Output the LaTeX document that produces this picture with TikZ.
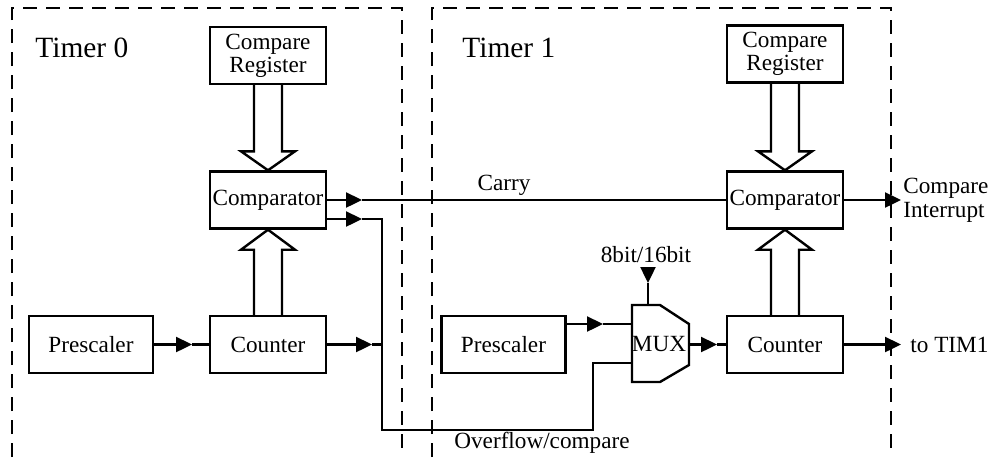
\documentclass[tikz,border=0pt]{standalone}
\usepackage{fontspec}
\setmainfont{Liberation Serif}
\usetikzlibrary{arrows.meta,calc}
\begin{document}
\begin{tikzpicture}[x=0.5pt,y=-0.5pt,
  lw/.style={line width=1.2pt},
  blk/.style={draw,lw,minimum width=58pt,minimum height=28.5pt,inner sep=0pt,align=center,font=\fontsize{11.6}{11.6}\selectfont},
  wideblk/.style={blk,minimum width=62pt},
  frame/.style={line width=1.2pt,dash pattern=on 7pt off 4.5pt},
  arr/.style={lw,-{Triangle[length=8pt,width=7.5pt]}},
  wire/.style={lw},
  hollow/.style={lw,line join=miter},
  lbl/.style={font=\fontsize{11.6}{12}\selectfont,inner sep=0pt,align=left},
  ttl/.style={font=\fontsize{14.7}{15}\selectfont,inner sep=0pt,anchor=west}
]
\useasboundingbox (0,0) rectangle (992,457);

% frames
\draw[frame] (12,457) -- (12,8) -- (402,8) -- (402,457);
\draw[frame] (432,457) -- (432,8) -- (891,8) -- (891,457);

\node[ttl] (t0) at (35,48) {Timer 0};
\node[ttl] (t1) at (462,48) {Timer 1};

% Timer 0 blocks
\node[blk] (cr0) at (268,55.5) {Compare\\Register};
\node[blk] (cp0) at (268,200) {Comparator};
\node[blk] (ct0) at (268,344.5) {Counter};
\node[wideblk] (ps0) at (91,344.5) {Prescaler};

% Timer 1 blocks
\node[blk] (cr1) at (785,54) {Compare\\Register};
\node[blk] (cp1) at (785,200) {Comparator};
\node[blk] (ct1) at (785,344.5) {Counter};
\node[wideblk] (ps1) at (503.5,344.5) {Prescaler};

% MUX
\node[inner sep=0pt,font=\fontsize{11.6}{12}\selectfont] (mux) at (659,344) {MUX};
\coordinate (mtl) at (632,305);
\coordinate (mbl) at (632,382);
\coordinate (min1) at (632,324);
\coordinate (min2) at (632,363);
\coordinate (mtop) at (648,305);
\coordinate (mout) at (689,344.5);
\draw[lw,line join=miter] (mtl) -- (660,305) -- (689,324) -- (689,365) -- (660,382) -- (mbl) -- cycle;

% hollow arrows
\foreach \a/\b in {cr0/cp0,cr1/cp1}{
  \draw[hollow] ($(\a.south)+(-14,0)$) -- ($(\b.north)+(-14,-19)$) -- ($(\b.north)+(-27,-19)$)
    -- (\b.north) -- ($(\b.north)+(27,-19)$) -- ($(\b.north)+(14,-19)$) -- ($(\a.south)+(14,0)$);
}
\foreach \a/\b in {ct0/cp0,ct1/cp1}{
  \draw[hollow] ($(\a.north)+(-14,0)$) -- ($(\b.south)+(-14,20)$) -- ($(\b.south)+(-27,20)$)
    -- (\b.south) -- ($(\b.south)+(27,20)$) -- ($(\b.south)+(14,20)$) -- ($(\a.north)+(14,0)$);
}

% Timer 0 wiring
\coordinate (pa) at (192,344.5);
\draw[arr] (ps0.east) -- (pa);
\draw[wire] (pa) -- (ct0.west);

\coordinate (c1a) at (362,200);
\draw[arr] (cp0.east) -- (c1a);
\draw[wire] (c1a) -- (cp1.west);
\node[lbl] (carry) at (504,185) {Carry};

\coordinate (c2s) at ($(cp0.east)+(0,19)$);
\coordinate (c2a) at (362,219);
\coordinate (j1) at (382,219);
\coordinate (j2) at (382,430);
\coordinate (j3) at (593,430);
\coordinate (j4) at (593,363);
\draw[arr] (c2s) -- (c2a);
\draw[wire] (c2a) -- (j1) -- (j2) -- (j3) -- (j4) -- (min2);
\node[lbl] (ovf) at (542,443) {Overflow/compare};

\coordinate (cta) at (372,344.5);
\coordinate (ctj) at (382,344.5);
\draw[arr] (ct0.east) -- (cta);
\draw[wire] (cta) -- (ctj);

% Timer 1 wiring
\coordinate (p1s) at ($(ps1.east)+(0,-20.5)$);
\coordinate (p1a) at (603,324);
\draw[arr] (p1s) -- (p1a);
\draw[wire] (p1a) -- (min1);

\node[lbl] (bits) at (646,255) {8bit/16bit};
\coordinate (b1) at (648,268);
\coordinate (b2) at (648,283);
\draw[arr] (b1) -- (b2);
\draw[wire] (b2) -- (mtop);

\coordinate (ma) at (717,344.5);
\draw[arr] (mout) -- (ma);
\draw[wire] (ma) -- (ct1.west);

\coordinate (ci) at (901,200);
\draw[arr] (cp1.east) -- (ci);
\node[lbl,anchor=west] (cint) at (903,200) {Compare\\Interrupt};

\coordinate (tt) at (901,344.5);
\draw[arr] (ct1.east) -- (tt);
\node[lbl,anchor=west] (tim) at (910,344.5) {to TIM1};
\end{tikzpicture}
\end{document}
